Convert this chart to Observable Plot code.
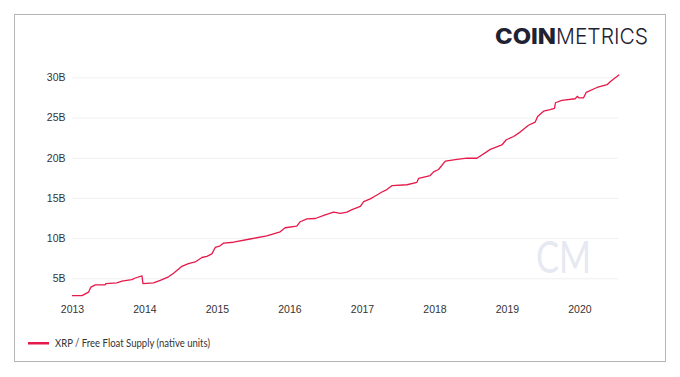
<!DOCTYPE html>
<html>
<head>
<meta charset="utf-8">
<script src="https://cdn.jsdelivr.net/npm/d3@7"></script>
<script src="https://cdn.jsdelivr.net/npm/@observablehq/plot@0.6"></script>
<style>
  html, body { margin: 0; padding: 0; background: #fff; }
  #page { position: relative; width: 680px; height: 377px; overflow: hidden; }
  #frame { position: absolute; left: 14px; top: 14px; width: 652px; height: 348px; box-sizing: border-box; border: 1px solid #b2b4b8; }
  #chart { position: absolute; left: 0; top: 0; }
  #overlay { position: absolute; left: 0; top: 0; pointer-events: none; }
</style>
</head>
<body>
<div id="page">
  <div id="frame"></div>
  <div id="chart"></div>
  <svg id="overlay" width="680" height="377">
    <text x="536" y="272.5" font-family="Lato, sans-serif" font-weight="400" font-size="44" fill="#e6e9f2" textLength="55" lengthAdjust="spacingAndGlyphs">CM</text>
    <text x="495" y="44.3" font-family="Inter, sans-serif" font-size="22" fill="#1f2233"><tspan font-weight="800" textLength="61" lengthAdjust="spacingAndGlyphs">COIN</tspan><tspan font-weight="300" textLength="92" lengthAdjust="spacingAndGlyphs">METRICS</tspan></text>
    <rect x="28" y="342" width="21" height="2.5" fill="#e5194a"></rect>
    <text id="legendText" x="55" y="347" font-family="Lato, sans-serif" font-size="11" fill="#333" textLength="155" lengthAdjust="spacingAndGlyphs"></text>
  </svg>
</div>
<script>
// Series: XRP free float supply (billions of native units)
const dates = [
  "2013-01-01","2013-02-18","2013-03-23","2013-04-04","2013-04-26","2013-06-15","2013-06-18",
  "2013-08-13","2013-09-07","2013-10-27","2013-11-13","2013-12-17","2013-12-22",
  "2014-02-13","2014-03-19","2014-04-30","2014-05-25","2014-07-06","2014-08-08","2014-09-11",
  "2014-10-15","2014-11-09","2014-12-04","2014-12-21",
  "2015-01-15","2015-02-01","2015-03-23","2015-06-15","2015-09-07","2015-11-13","2015-12-08",
  "2016-02-05","2016-02-22","2016-03-27","2016-05-08","2016-06-27","2016-08-08","2016-09-11",
  "2016-10-15","2016-11-09","2016-12-21",
  "2017-01-07","2017-02-09","2017-03-06","2017-04-09","2017-05-04","2017-05-30","2017-08-13",
  "2017-10-02","2017-10-11","2017-12-08","2017-12-25",
  "2018-01-19","2018-02-22","2018-04-22","2018-06-11","2018-07-31","2018-10-07","2018-12-04","2018-12-26",
  "2019-02-01","2019-03-06","2019-04-17","2019-05-21","2019-06-02","2019-07-02","2019-08-04",
  "2019-08-26","2019-08-31","2019-10-02","2019-12-08","2019-12-20","2019-12-27",
  "2020-01-19","2020-02-02","2020-03-27","2020-05-17","2020-06-03","2020-07-15"
];
const supplyB = [
  2.9,2.9,3.35,3.97,4.25,4.25,4.4,
  4.5,4.7,4.9,5.1,5.35,4.4,
  4.5,4.8,5.25,5.7,6.55,6.9,7.1,
  7.65,7.8,8.1,8.9,
  9.1,9.45,9.55,9.95,10.35,10.85,11.35,
  11.55,12.1,12.45,12.5,12.95,13.3,13.15,
  13.3,13.6,14.0,
  14.6,14.95,15.3,15.8,16.1,16.6,16.7,
  17.0,17.5,17.85,18.3,
  18.6,19.65,19.85,20.0,20.0,21.1,21.65,22.3,
  22.7,23.25,24.1,24.5,25.2,25.85,26.05,
  26.2,26.9,27.2,27.4,27.7,27.5,
  27.5,28.2,28.8,29.15,29.55,30.35
];
const yTicks = [5e9, 10e9, 15e9, 20e9, 25e9, 30e9];
const xTicks = ["2013","2014","2015","2016","2017","2018","2019","2020"];
const seriesName = "XRP / Free Float Supply (native units)";

const parse = d3.utcParse("%Y-%m-%d");
const data = dates.map((d, i) => ({date: parse(d), value: supplyB[i] * 1e9}));
const xTickDates = xTicks.map(y => d3.utcParse("%Y")(y));

const chart = Plot.plot({
  width: 680,
  height: 330,
  marginLeft: 72,
  marginRight: 61.7,
  marginTop: 69.3,
  marginBottom: 31.6,
  style: {fontFamily: "'Liberation Sans', Arial, sans-serif", fontSize: "10.5px", color: "#333", background: "transparent"},
  x: {type: "utc", domain: [parse("2013-01-01"), parse("2020-07-15")], ticks: xTickDates, tickFormat: d3.utcFormat("%Y"), tickSize: 0, tickPadding: 7, label: null},
  y: {domain: [2.5e9, 31e9], ticks: yTicks, tickFormat: d => (d / 1e9) + "B", tickSize: 0, tickPadding: 7, label: null},
  marks: [
    Plot.ruleY(yTicks, {stroke: "#f0f0f2", strokeWidth: 1}),
    Plot.axisX({ticks: xTickDates, tickFormat: d3.utcFormat("%Y"), tickSize: 0, tickPadding: 7, fill: "#333"}),
    Plot.axisY({ticks: yTicks, tickFormat: d => (d / 1e9) + "B", tickSize: 0, tickPadding: 7, fill: "#333"}),
    Plot.line(data, {x: "date", y: "value", stroke: "#e5194a", strokeWidth: 1.3, curve: "linear"})
  ]
});
document.getElementById("chart").appendChild(chart);
document.getElementById("legendText").textContent = seriesName;
</script>
</body>
</html>
